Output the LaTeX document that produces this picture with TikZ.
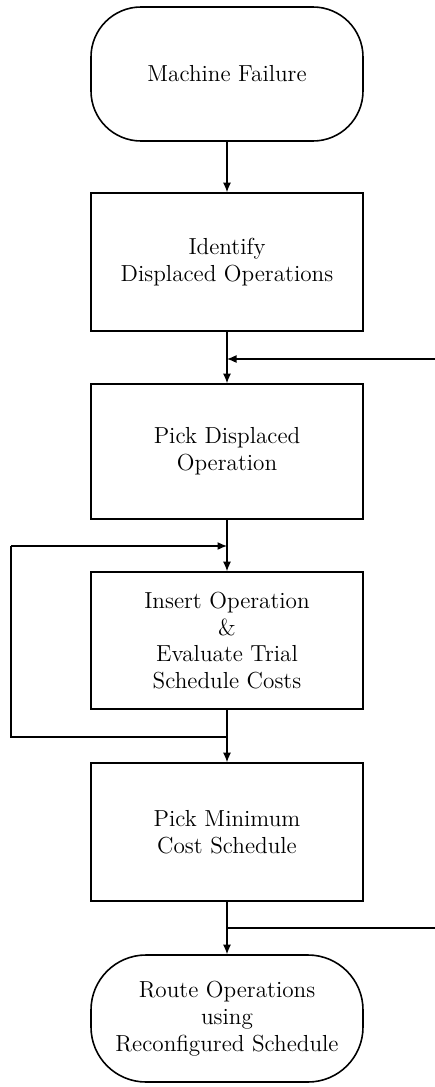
\documentclass[tikz,border=0pt]{standalone}
\usepackage{amsmath,amssymb}
\usetikzlibrary{arrows.meta,calc,positioning}

\tikzset{
	stepbox/.style={draw,line width=.9pt,minimum width=5.44cm,align=center,font=\fontsize{13.2}{15.2}\selectfont,inner sep=2pt},
	termbox/.style={stepbox,rounded corners=1cm},
	flow/.style={line width=.7pt,-{Latex[length=1.9mm,width=1.6mm]}},
	link/.style={line width=.7pt}
}

\begin{document}
\begin{tikzpicture}
	\useasboundingbox (0,0) rectangle (8.7,-21.74);
	% the chain of steps
	\node[termbox,minimum height=2.68cm] (fail) at (4.54,-1.48) {Machine Failure};
	\node[stepbox,minimum height=2.76cm] (ident) at (4.54,-5.24) {Identify\\Displaced Operations};
	\node[stepbox,minimum height=2.70cm] (pick) at (4.54,-9.03) {Pick Displaced\\Operation};
	\node[stepbox,minimum height=2.74cm] (insert) at (4.54,-12.81) {Insert Operation\\\&\\Evaluate Trial\\Schedule Costs};
	\node[stepbox,minimum height=2.76cm] (best) at (4.54,-16.64) {Pick Minimum\\Cost Schedule};
	\node[termbox,minimum height=2.54cm,rounded corners=1.1cm] (route) at (4.54,-20.37) {Route Operations\\using\\Reconfigured Schedule};
	\foreach \a/\b in {fail/ident,ident/pick,pick/insert,insert/best,best/route}
		\draw[flow] (\a.south) -- (\b.north);
	% feedback lines
	\path
	(8.7,-7.18) coordinate (back)
	(0.22,-10.92) coordinate (looptop)
	(0.22,-14.74) coordinate (loopbot)
	(8.7,-18.56) coordinate (out);
	\draw[flow] (back) -- (back -| ident.south);
	\draw[link] (insert.south |- loopbot) -- (loopbot) -- (looptop);
	\draw[flow] (looptop) -- (looptop -| pick.south);
	\draw[link] (out -| best.south) -- (out);
\end{tikzpicture}
\end{document}
